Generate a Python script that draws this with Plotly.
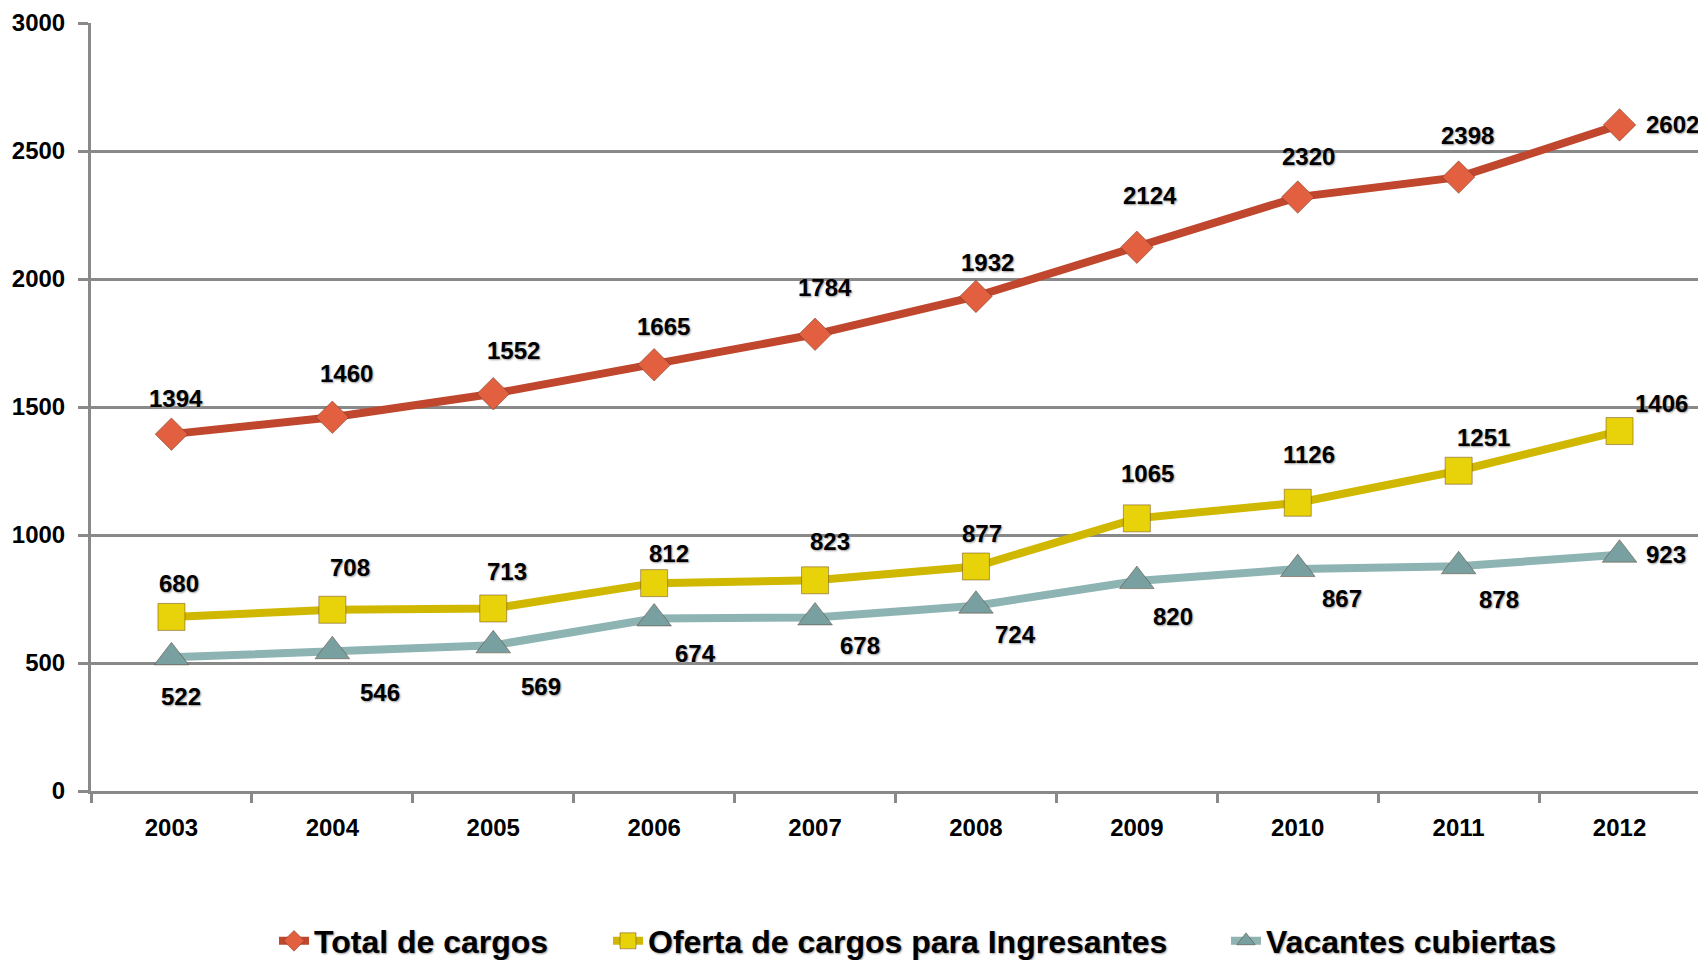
import plotly.graph_objects as go

years = ["2003", "2004", "2005", "2006", "2007", "2008", "2009", "2010", "2011", "2012"]
total_cargos = [1394, 1460, 1552, 1665, 1784, 1932, 2124, 2320, 2398, 2602]
oferta_ingresantes = [680, 708, 713, 812, 823, 877, 1065, 1126, 1251, 1406]
vacantes_cubiertas = [522, 546, 569, 674, 678, 724, 820, 867, 878, 923]
y_ticks = [0, 500, 1000, 1500, 2000, 2500, 3000]

# label offsets (pixels) — styling only
off_total = [(5, 36), (14, 44), (20, 43), (9, 38), (10, 47), (12, 34), (13, 52), (11, 41), (9, 42), (53, 0)]
off_oferta = [(8, 33), (18, 42), (14, 37), (15, 30), (15, 39), (6, 33), (11, 45), (11, 48), (25, 33), (42, 28)]
off_vac = [(10, -39), (48, -41), (48, -41), (41, -35), (45, -28), (40, -29), (36, -35), (44, -29), (40, -33), (46, 0)]

FONT = "Liberation Sans, Arial, sans-serif"
W, H = 1698, 952  # page body has an 8px margin

series = [
    ("Total de cargos", total_cargos, "#C0462E", "#E2603F", "diamond", 25, off_total, "legend", 266),
    ("Oferta de cargos para Ingresantes", oferta_ingresantes, "#D1B800", "#E8D20A", "square", 27, off_oferta, "legend2", 600),
    ("Vacantes cubiertas", vacantes_cubiertas, "#8DB3B3", "#78A0A1", "triangle-up", 30, off_vac, "legend3", 1218),
]

fig = go.Figure()
annotations = []
legends = {}
for name, vals, lc, mc, sym, ms, offs, leg, lx in series:
    fig.add_trace(go.Scatter(
        x=years, y=vals, name=name, mode="lines+markers",
        line=dict(color=lc, width=8),
        marker=dict(symbol=sym, size=ms, color=mc, line=dict(color="rgba(90,50,30,0.45)", width=1)),
        cliponaxis=False, legend=leg,
    ))
    legends[leg] = dict(
        orientation="h", xref="container", x=lx / W, xanchor="left",
        yref="container", y=(H - 933) / H, yanchor="middle",
        font=dict(family=FONT, size=32, color="#000000", weight="bold",
                  shadow="1px 1px 2px #9a9a9a"),
        bgcolor="rgba(0,0,0,0)",
    )
    for i, (yv, (dx, dy)) in enumerate(zip(vals, offs)):
        annotations.append(dict(
            x=i, y=yv, xref="x", yref="y", text=str(yv), showarrow=False,
            xshift=dx, yshift=dy,
            font=dict(family=FONT, size=24, color="#000000", weight="bold",
                      shadow="1px 1px 2px #9a9a9a"),
        ))

fig.update_layout(
    width=W, height=H,
    margin=dict(l=83, r=6, t=15, b=169, autoexpand=False),
    paper_bgcolor="white", plot_bgcolor="white",
    showlegend=True,
    annotations=annotations,
    xaxis=dict(type="category", range=[-0.5, 9.5], tickson="boundaries", ticks="outside",
               ticklen=9, tickwidth=3, tickcolor="#898989", automargin=False,
               showline=True, linecolor="#898989", linewidth=3, showgrid=False,
               tickfont=dict(family=FONT, size=24, color="#000000", weight="bold"),
               ticklabelstandoff=13),
    yaxis=dict(range=[0, 3000], tickvals=y_ticks, ticks="outside", ticklen=10, tickwidth=3,
               tickcolor="#898989", showline=True, linecolor="#898989", linewidth=3,
               showgrid=True, gridcolor="#898989", gridwidth=3, zeroline=False, automargin=False,
               tickfont=dict(family=FONT, size=24, color="#000000", weight="bold"),
               ticklabelstandoff=8),
    **legends,
)

fig.write_html("out.html")
